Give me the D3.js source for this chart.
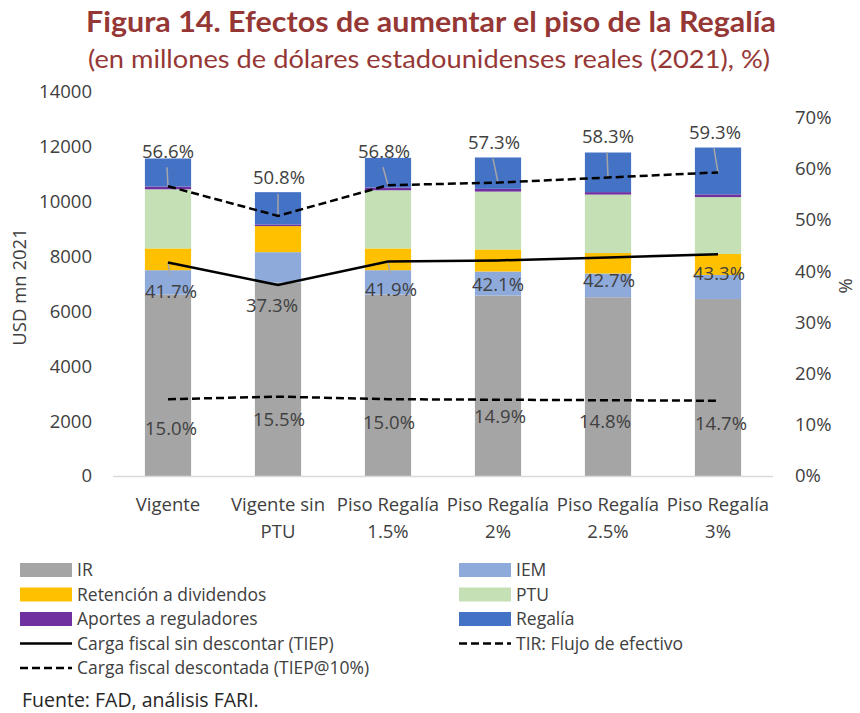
<!DOCTYPE html>
<html>
<head>
<meta charset="utf-8">
<script src="https://cdn.jsdelivr.net/npm/d3@7"></script>
<style>
  body { margin: 0; background: #fff; }
  svg { display: block; }
</style>
</head>
<body>
<svg id="chart"></svg>
<script>
// categories and series (USD mn 2021, stacked bottom to top)
const categories = [["Vigente"], ["Vigente sin", "PTU"], ["Piso Regalía", "1.5%"],
  ["Piso Regalía", "2%"], ["Piso Regalía", "2.5%"], ["Piso Regalía", "3%"]];
const ir = [6616, 7054, 6616, 6579, 6517, 6451];
const iem = [888, 1107, 888, 877, 866, 877];
const retencion = [793, 950, 793, 804, 746, 768];
const ptu = [2156, 0, 2120, 2109, 2131, 2072];
const aportes = [100, 60, 100, 100, 90, 100];
const regalia = [1023, 1177, 1082, 1144, 1444, 1707];

// lines on the right axis
const cargaSinDesc = [0.417, 0.373, 0.419, 0.421, 0.427, 0.433];
const cargaDesc = [0.566, 0.508, 0.568, 0.573, 0.583, 0.593];
const tir = [0.150, 0.155, 0.150, 0.149, 0.148, 0.147];

const leftTicks = [0, 2000, 4000, 6000, 8000, 10000, 12000, 14000];
const rightTicks = [0, 0.1, 0.2, 0.3, 0.4, 0.5, 0.6, 0.7];

// label nudges in px (dx, dy of label centre from the point), hand placed like the original
const nudgeDesc = [[0, -35], [1, -38], [-4, -34], [-4, -40], [0, -41], [-3, -40]];
const nudgeSin = [[3, 29], [-6, 21], [3, 28], [0, 24], [1, 23], [1, 19]];
const nudgeTir = [[3, 29], [1, 23], [1, 23], [2, 17], [-3, 21], [3, 23]];

const W = 860, H = 713;
const font = "'Open Sans', 'Noto Sans', sans-serif";
const textCol = "#404040";

const stackKeys = ["IR", "IEM", "Retención a dividendos", "PTU", "Aportes a reguladores", "Regalía"];
const stackVals = [ir, iem, retencion, ptu, aportes, regalia];
const colors = ["#a5a5a5", "#8eaadb", "#ffc000", "#c5e0b4", "#7030a0", "#4472c4"];

const rows = categories.map(function(c, i) {
  var r = { i: i };
  stackKeys.forEach(function(k, j) { r[k] = stackVals[j][i]; });
  return r;
});

const svg = d3.select("#chart").attr("width", W).attr("height", H);

const x = d3.scaleBand().domain(d3.range(categories.length))
  .range([113, 773]).paddingInner(0.58).paddingOuter(0.29);
const y = d3.scaleLinear().domain([0, 14000]).range([476, 92]);
const y2 = d3.scaleLinear().domain([0, 0.75]).range([476, 92]);

// titles
svg.append("text")
  .attr("x", 431).attr("y", 32)
  .attr("text-anchor", "middle")
  .attr("textLength", 690).attr("lengthAdjust", "spacingAndGlyphs")
  .style("font-family", "Lato, 'Open Sans', sans-serif")
  .style("font-weight", "bold")
  .style("font-size", "28px")
  .style("fill", "#953735")
  .text("Figura 14. Efectos de aumentar el piso de la Regalía");
svg.append("text")
  .attr("x", 429).attr("y", 68)
  .attr("text-anchor", "middle")
  .attr("textLength", 682).attr("lengthAdjust", "spacingAndGlyphs")
  .style("font-family", "Lato, 'Open Sans', sans-serif")
  .style("font-size", "25px")
  .style("fill", "#953735")
  .text("(en millones de dólares estadounidenses reales (2021), %)");

// axes
const axisL = svg.append("g").attr("transform", "translate(100,0)")
  .call(d3.axisLeft(y).tickValues(leftTicks).tickSize(0).tickPadding(8).tickFormat(d3.format("d")));
const axisR = svg.append("g").attr("transform", "translate(773,0)")
  .call(d3.axisRight(y2).tickValues(rightTicks).tickSize(0).tickPadding(22).tickFormat(d3.format(".0%")));
[axisL, axisR].forEach(function(a) {
  a.select(".domain").remove();
  a.selectAll("text")
    .style("font-family", font).style("font-size", "18.5px").style("fill", textCol);
});

svg.append("text")
  .attr("transform", "translate(26,287) rotate(-90)")
  .attr("text-anchor", "middle")
  .style("font-family", font).style("font-size", "18.5px").style("fill", textCol)
  .text("USD mn 2021");
svg.append("text")
  .attr("transform", "translate(839,286) rotate(90)")
  .attr("text-anchor", "middle")
  .style("font-family", font).style("font-size", "18.5px").style("fill", textCol)
  .text("%");

// stacked bars
const series = d3.stack().keys(stackKeys)(rows);
svg.append("g").selectAll("g")
  .data(series)
  .join("g")
  .attr("fill", function(d, i) { return colors[i]; })
  .selectAll("rect")
  .data(function(d) { return d; })
  .join("rect")
  .attr("x", function(d) { return x(d.data.i); })
  .attr("width", x.bandwidth())
  .attr("y", function(d) { return y(d[1]); })
  .attr("height", function(d) { return y(d[0]) - y(d[1]); });

// x axis line + category labels
svg.append("line")
  .attr("x1", 113).attr("x2", 773).attr("y1", 476.5).attr("y2", 476.5)
  .style("stroke", "#d9d9d9").style("stroke-width", 1.5);
categories.forEach(function(c, i) {
  var t = svg.append("text")
    .attr("text-anchor", "middle")
    .style("font-family", font).style("font-size", "18.5px").style("fill", textCol);
  c.forEach(function(s, k) {
    t.append("tspan").attr("x", x(i) + x.bandwidth() / 2).attr("y", 511 + k * 27).text(s);
  });
});

// lines
const cx = function(i) { return x(i) + x.bandwidth() / 2; };
const line = d3.line().x(function(d, i) { return cx(i); }).y(function(d) { return y2(d); });
const lineSeries = [
  { values: cargaSinDesc, dash: null, nudge: nudgeSin },
  { values: cargaDesc, dash: "8,4", nudge: nudgeDesc },
  { values: tir, dash: "8,4", nudge: nudgeTir }
];
const fmt = d3.format(".1%");

lineSeries.forEach(function(s) {
  var g = svg.append("g");
  // leader lines for labels that sit far from their point
  s.values.forEach(function(v, i) {
    var px = cx(i), py = y2(v);
    var lx = px + s.nudge[i][0], ly = py + s.nudge[i][1];
    if (Math.abs(s.nudge[i][1]) > 25) {
      var end = ly < py ? ly + 16 : ly - 16;
      g.append("line")
        .attr("x1", px).attr("y1", py).attr("x2", lx - 1).attr("y2", end)
        .style("stroke", "#a6a6a6").style("stroke-width", 1.5);
    }
  });
  g.append("path")
    .datum(s.values)
    .attr("d", line)
    .style("fill", "none")
    .style("stroke", "#000")
    .style("stroke-width", 2.5)
    .style("stroke-dasharray", s.dash);
  g.selectAll("text.lbl")
    .data(s.values)
    .join("text")
    .attr("class", "lbl")
    .attr("x", function(d, i) { return cx(i) + s.nudge[i][0]; })
    .attr("y", function(d, i) { return y2(d) + s.nudge[i][1]; })
    .attr("dy", "0.35em")
    .attr("text-anchor", "middle")
    .style("font-family", font).style("font-size", "18.5px").style("fill", textCol)
    .text(function(d) { return fmt(d); });
});

// legend
const legendItems = [
  { label: "IR", color: colors[0], col: 0, row: 0 },
  { label: "Retención a dividendos", color: colors[2], col: 0, row: 1 },
  { label: "Aportes a reguladores", color: colors[4], col: 0, row: 2 },
  { label: "Carga fiscal sin descontar (TIEP)", line: null, col: 0, row: 3 },
  { label: "Carga fiscal descontada (TIEP@10%)", line: "8,4", col: 0, row: 4 },
  { label: "IEM", color: colors[1], col: 1, row: 0 },
  { label: "PTU", color: colors[3], col: 1, row: 1 },
  { label: "Regalía", color: colors[5], col: 1, row: 2 },
  { label: "TIR: Flujo de efectivo", line: "8,4", col: 1, row: 3 }
];
const legend = svg.append("g");
legendItems.forEach(function(d) {
  var lx = d.col === 0 ? 20 : 459;
  var ly = 570 + d.row * 24.5;
  if (d.color) {
    legend.append("rect")
      .attr("x", lx).attr("y", ly - 7).attr("width", 52).attr("height", 14)
      .attr("fill", d.color);
  } else {
    legend.append("line")
      .attr("x1", lx).attr("x2", lx + 52).attr("y1", ly).attr("y2", ly)
      .style("stroke", "#000").style("stroke-width", 2.5)
      .style("stroke-dasharray", d.line);
  }
  legend.append("text")
    .attr("x", lx + 57).attr("y", ly).attr("dy", "0.35em")
    .style("font-family", font).style("font-size", "17.5px").style("fill", textCol)
    .text(d.label);
});

svg.append("text")
  .attr("x", 22).attr("y", 700).attr("dy", "0.35em")
  .style("font-family", font).style("font-size", "19.5px").style("fill", "#262626")
  .text("Fuente: FAD, análisis FARI.");
</script>
</body>
</html>
